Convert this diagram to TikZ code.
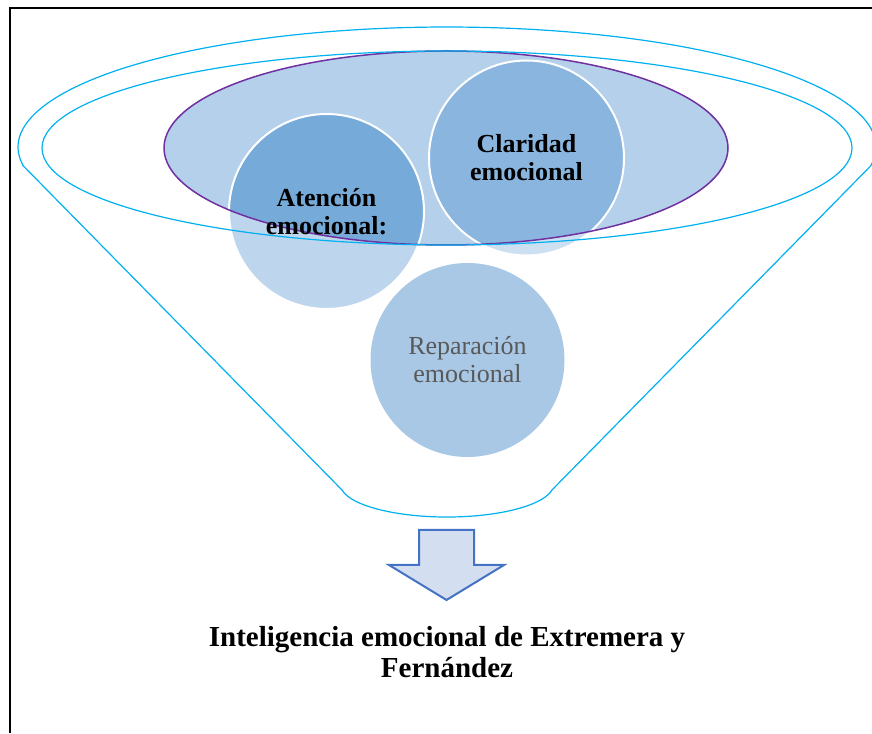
\documentclass[tikz,border=0pt]{standalone}
\usepackage{fontspec}
\setmainfont{Liberation Serif}
\definecolor{ellfill}{HTML}{B4D0EA}
\definecolor{purp}{HTML}{7030A0}
\definecolor{cyanl}{HTML}{00B0F0}
\definecolor{atin}{HTML}{75AAD9}
\definecolor{atout}{HTML}{BDD6EE}
\definecolor{clin}{HTML}{89B5DF}
\definecolor{clout}{HTML}{CDE0F2}
\definecolor{repf}{HTML}{A8C8E6}
\definecolor{rept}{HTML}{595959}
\definecolor{arrf}{HTML}{D3DEF0}
\definecolor{arrd}{HTML}{4472C4}
\begin{document}
\begin{tikzpicture}[x=1pt,y=1pt,
  cyanline/.style={draw=cyanl,line width=1.2pt},
  bubble/.style={circle,minimum size=195pt,inner sep=0pt,draw=white,line width=2pt,align=center},
  btext/.style={font=\fontsize{26}{28}\selectfont\bfseries},
  rtext/.style={font=\fontsize{26}{28}\selectfont,text=rept}]
\useasboundingbox (0,0) rectangle (872,733);
% frame
\draw[line width=1.6pt] (10,0) -- (10,725) -- (872,725);
% purple ellipse fill
\fill[ellfill] (446,585) ellipse [x radius=282, y radius=97];
% circle fills
\fill[atout] (326.5,521.5) circle [radius=97.5];
\fill[clout] (526.5,575) circle [radius=97.5];
\begin{scope}
  \clip (446,585) ellipse [x radius=282, y radius=97];
  \fill[atin] (326.5,521.5) circle [radius=97.5];
  \fill[clin] (526.5,575) circle [radius=97.5];
\end{scope}
\fill[repf] (467.5,373) circle [radius=97];
% circle nodes with text
\node[bubble,minimum size=195pt] (aten) at (326.5,521.5) {};
\node[bubble] (clar) at (526.5,575) {};
\node[bubble,draw=none] (repa) at (467.5,373) {};
% outlines
\draw[draw=purp,line width=1.5pt] (446,585) ellipse [x radius=282, y radius=97];
\draw[cyanline] (447,585) ellipse [x radius=405, y radius=97];
\draw[cyanline] (23.4,567) -- (342,243)
  arc[start angle=190, end angle=350, x radius=106.6, y radius=32.7]
  -- (870.6,567)
  arc[start angle=-9.1, end angle=189.1, x radius=429, y radius=120] -- cycle;
% texts
\node[btext,align=center] (atent) at (aten.center) {Atención\\emocional:};
\node[btext,align=center] (clart) at (clar.center) {Claridad\\emocional};
\node[rtext,align=center] (repat) at (repa.center) {Reparación\\emocional};
% arrow
\draw[fill=arrf,draw=arrd,line width=2pt,line join=miter]
  (419,203) -- (474,203) -- (474,168) -- (504,168) -- (446.5,133)
  -- (389,168) -- (419,168) -- cycle;
% title
\node[font=\fontsize{29}{31}\selectfont\bfseries,align=center] (title) at (447,81)
  {Inteligencia emocional de Extremera y\\Fernández};
\end{tikzpicture}
\end{document}
